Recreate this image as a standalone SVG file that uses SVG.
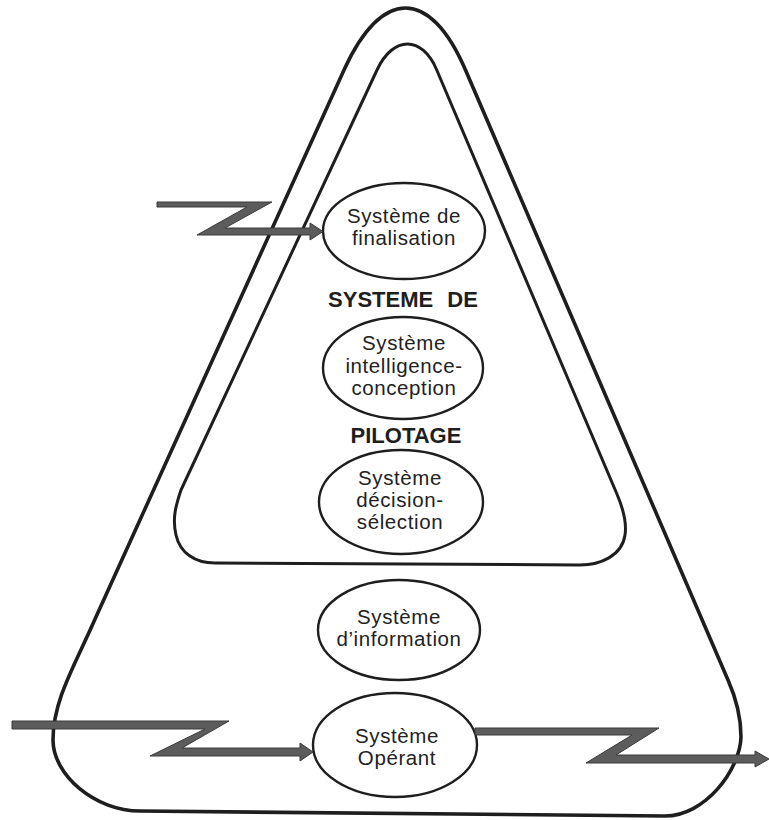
<svg xmlns="http://www.w3.org/2000/svg" width="769" height="820" viewBox="0 0 769 820">
<style>
.frame{fill:none;stroke:#1e1e1e;stroke-linejoin:round}
.node ellipse{fill:#fff;stroke:#1e1e1e;stroke-width:2.4}
.lbl{font-family:"Liberation Sans",Arial,sans-serif;font-size:20.5px;letter-spacing:0.6px;fill:#222;text-anchor:middle}
.big{font-family:"Liberation Sans",Arial,sans-serif;font-size:22px;font-weight:bold;fill:#1e1e1e;text-anchor:middle}
.flow{fill:#5c5c5c;stroke:#3a3a3a;stroke-width:1;stroke-linejoin:miter}
</style>
<rect width="769" height="820" fill="#fff"/>
<g id="outer-frame">
<path class="frame" stroke-width="3.6" d="M 344 70 C 381.5 -12.7, 430 -12.7, 465.5 70 L 728 680 C 736 698, 741 715, 741 737 C 740 770, 705 816, 665 816 L 140 811 C 95 811, 53 775, 53 740 C 53 700, 75 665, 94.6 620 Z"/>
</g>
<g id="inner-frame">
<path class="frame" stroke-width="3" d="M 377 70 C 393.2 35.3, 422 35.3, 436.75 70 L 616.5 493 C 623 508, 627 522, 625 535 C 622 556, 600 565, 580 565 L 215 563 C 195 563, 180 553, 176 535 C 172 518, 176 505, 181 490 Z"/>
</g>
<g id="labels">
<text class="big" x="403" y="307" word-spacing="8">SYSTEME DE</text>
<text class="big" x="406" y="443">PILOTAGE</text>
</g>
<g id="finalisation" class="node">
<ellipse cx="404" cy="231" rx="81" ry="48"/>
<text class="lbl" x="404" y="223">Système de</text>
<text class="lbl" x="404" y="245">finalisation</text>
</g>
<g id="intelligence" class="node">
<ellipse cx="403" cy="368" rx="80" ry="51"/>
<text class="lbl" x="404" y="350">Système</text>
<text class="lbl" x="404" y="373">intelligence-</text>
<text class="lbl" x="404" y="395">conception</text>
</g>
<g id="decision" class="node">
<ellipse cx="401" cy="502" rx="82" ry="52"/>
<text class="lbl" x="400" y="485">Système</text>
<text class="lbl" x="400" y="507">décision-</text>
<text class="lbl" x="400" y="529">sélection</text>
</g>
<g id="information" class="node">
<ellipse cx="399" cy="630" rx="81" ry="50"/>
<text class="lbl" x="399" y="624">Système</text>
<text class="lbl" x="399" y="646">d’information</text>
</g>
<g id="operant" class="node">
<ellipse cx="395" cy="745" rx="82" ry="52"/>
<text class="lbl" x="397" y="743">Système</text>
<text class="lbl" x="397" y="765">Opérant</text>
</g>
<g id="connectors">
<polygon class="flow" points="157,202 272,202 225,228 310,228 310,223 323,231.5 310,240 310,235 197,235 247,207 157,207"/>
<polygon class="flow" points="12,721 229,721 182,748 300,748 300,743 313,752 300,761 300,756 150,756 205,729 12,729"/>
<polygon class="flow" points="475,728 659,728 616,755 755,755 755,751 769,759 755,767 755,763 586,763 632,735 475,735"/>
</g>
</svg>
